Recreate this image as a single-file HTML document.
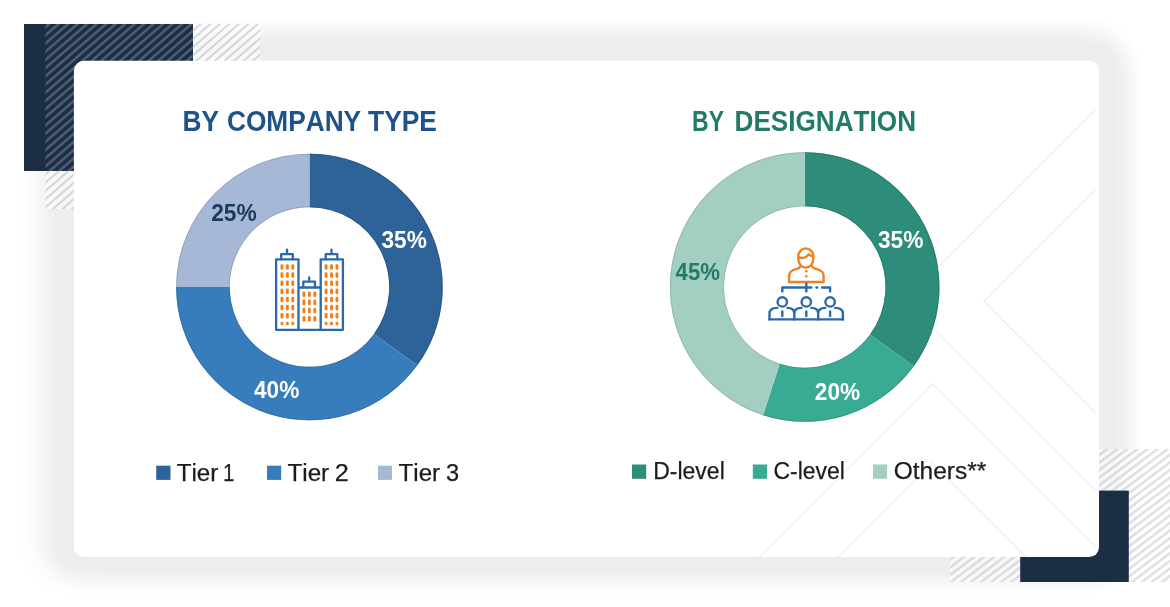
<!DOCTYPE html>
<html lang="en"><head><meta charset="utf-8"><title>Breakdown of primaries</title>
<style>
html,body{margin:0;padding:0;background:#fff;}
body{width:1170px;height:607px;position:relative;overflow:hidden;font-family:"Liberation Sans",sans-serif;}
.shadow{position:absolute;left:48px;top:30px;width:1082px;height:552px;border-radius:44px;background:rgba(0,0,0,.037);filter:blur(8px);}
.shadow.b{left:32px;width:1098px;filter:blur(9px);}
svg{position:absolute;left:0;top:0;}
text{font-kerning:none;white-space:pre;}
.t{font-weight:700;font-size:29.9px;}
.p{font-weight:700;font-size:24.6px;}
.l{font-size:24.8px;fill:#1c1c1c;stroke:#1c1c1c;stroke-width:.25px;}
</style></head><body>
<div class="shadow"></div><div class="shadow b"></div>
<svg width="1170" height="607" viewBox="0 0 1170 607">
<defs>
<pattern id="h" width="20" height="6.2" patternUnits="userSpaceOnUse" patternTransform="translate(0,-.8) rotate(-40.8)"><rect x="0" y="0" width="20" height="2.4" fill="#96a0b1" fill-opacity=".43"/></pattern>
<pattern id="h3" width="20" height="6.2" patternUnits="userSpaceOnUse" patternTransform="translate(0,-.8) rotate(-40.8)"><rect x="0" y=".4" width="20" height="1.6" fill="#9a9eab" fill-opacity=".5"/></pattern>
<pattern id="h2" width="20" height="6.05" patternUnits="userSpaceOnUse" patternTransform="translate(2,0) rotate(-37)"><rect x="0" y="0" width="20" height="2.6" fill="#a3a7b3" fill-opacity=".34"/></pattern>
<clipPath id="cc"><rect x="74" y="61" width="1021.5" height="496" rx="8"/></clipPath>
</defs>
<rect x="45" y="24" width="215" height="185" fill="#fff" fill-opacity=".6"/>
<rect x="950" y="449" width="220" height="133" fill="#fff" fill-opacity=".6"/>
<rect x="24" y="24" width="169" height="147" fill="#1c2e44"/>
<rect x="45.5" y="24" width="147.5" height="147" fill="url(#h)"/><path d="M193 24H260.2V209H45.5V171H193z" fill="url(#h3)"/>
<rect x="950.4" y="449" width="220" height="133" fill="url(#h2)"/>
<rect x="1020.2" y="490.6" width="108.6" height="91.4" fill="#1c2e44"/>
<rect x="73.9" y="60.7" width="1025.1" height="496.4" rx="10" fill="#fff"/>
<path d="M309.45 153.7A133.3 133.3 0 0 1 417.29 365.35L374.01 333.91A79.8 79.8 0 0 0 309.45 207.2Z" fill="#2e6399"/>
<path d="M417.29 365.35A133.3 133.3 0 0 1 176.15 287L229.65 287A79.8 79.8 0 0 0 374.01 333.91Z" fill="#377cbb"/>
<path d="M176.15 287A133.3 133.3 0 0 1 309.45 153.7L309.45 207.2A79.8 79.8 0 0 0 229.65 287Z" fill="#a6b8d6"/>
<path d="M309.45 154.15A132.85000000000002 132.85000000000002 0 0 1 416.93 365.09M309.45 206.75A80.25 80.25 0 0 1 374.37 334.17" fill="none" stroke="#234d77" stroke-opacity=".6" stroke-width=".9"/>
<path d="M416.93 365.09A132.85000000000002 132.85000000000002 0 0 1 176.6 287M374.37 334.17A80.25 80.25 0 0 1 229.2 287" fill="none" stroke="#2a6091" stroke-opacity=".6" stroke-width=".9"/>
<path d="M176.6 287A132.85000000000002 132.85000000000002 0 0 1 309.45 154.15M229.2 287A80.25 80.25 0 0 1 309.45 206.75" fill="none" stroke="#818fa6" stroke-opacity=".6" stroke-width=".9"/>
<path d="M804.7 152.2A134.8 134.8 0 0 1 913.76 366.23L870.07 334.49A80.8 80.8 0 0 0 804.7 206.2Z" fill="#2e8c7a"/>
<path d="M913.76 366.23A134.8 134.8 0 0 1 763.04 415.2L779.73 363.85A80.8 80.8 0 0 0 870.07 334.49Z" fill="#39ab94"/>
<path d="M763.04 415.2A134.8 134.8 0 0 1 804.7 152.2L804.7 206.2A80.8 80.8 0 0 0 779.73 363.85Z" fill="#a3cfc3"/>
<path d="M804.7 152.65A134.35000000000002 134.35000000000002 0 0 1 913.39 365.97M804.7 205.75A81.25 81.25 0 0 1 870.43 334.76" fill="none" stroke="#236d5f" stroke-opacity=".6" stroke-width=".9"/>
<path d="M913.39 365.97A134.35000000000002 134.35000000000002 0 0 1 763.18 414.77M870.43 334.76A81.25 81.25 0 0 1 779.59 364.27" fill="none" stroke="#2c8573" stroke-opacity=".6" stroke-width=".9"/>
<path d="M763.18 414.77A134.35000000000002 134.35000000000002 0 0 1 804.7 152.65M779.59 364.27A81.25 81.25 0 0 1 804.7 205.75" fill="none" stroke="#7fa198" stroke-opacity=".6" stroke-width=".9"/>
<g fill="none" stroke="#8f8f8f" stroke-opacity=".14" stroke-width="1.4" clip-path="url(#cc)">
<path d="M1105 100.4L905 300.4L1105 500.4"/>
<path d="M1104 181.5L984 301.5L1104 421.5"/>
<path d="M752.5 564L932.5 384L1112.5 564"/>
<path d="M832.5 563.3L932.5 463.3L1032.5 563.3"/>
</g>
<g fill="none" stroke="#2b69ab" stroke-width="2.3" stroke-linejoin="round" stroke-linecap="round">
<path d="M276.1 329.8V259.3H298.5V329.8M320.7 329.8V259.3H342.9V329.8M276.1 329.8H342.9M298.5 287.5H320.7"/>
<path d="M281.2 259.3V254.2H292.8V259.3M287.05 254.2V249.6M325.7 259.3V254.2H337.3V259.3M331.45 254.2V249.6M303.3 287.5V281.7H315V287.5M309.15 281.7V277.5"/>
</g>
<g fill="#f0801c"><rect x="280.5" y="264.2" width="2.9" height="5.6" rx="1.3"/><rect x="280.5" y="272.3" width="2.9" height="5.6" rx="1.3"/><rect x="280.5" y="280.5" width="2.9" height="5.6" rx="1.3"/><rect x="280.5" y="288.6" width="2.9" height="5.6" rx="1.3"/><rect x="280.5" y="296.7" width="2.9" height="5.6" rx="1.3"/><rect x="280.5" y="304.8" width="2.9" height="5.6" rx="1.3"/><rect x="280.5" y="313" width="2.9" height="5.6" rx="1.3"/><rect x="280.5" y="321.7" width="2.9" height="3.6" rx="1.3"/><rect x="285.95" y="264.2" width="2.9" height="5.6" rx="1.3"/><rect x="285.95" y="272.3" width="2.9" height="5.6" rx="1.3"/><rect x="285.95" y="280.5" width="2.9" height="5.6" rx="1.3"/><rect x="285.95" y="288.6" width="2.9" height="5.6" rx="1.3"/><rect x="285.95" y="296.7" width="2.9" height="5.6" rx="1.3"/><rect x="285.95" y="304.8" width="2.9" height="5.6" rx="1.3"/><rect x="285.95" y="313" width="2.9" height="5.6" rx="1.3"/><rect x="285.95" y="321.7" width="2.9" height="3.6" rx="1.3"/><rect x="291.35" y="264.2" width="2.9" height="5.6" rx="1.3"/><rect x="291.35" y="272.3" width="2.9" height="5.6" rx="1.3"/><rect x="291.35" y="280.5" width="2.9" height="5.6" rx="1.3"/><rect x="291.35" y="288.6" width="2.9" height="5.6" rx="1.3"/><rect x="291.35" y="296.7" width="2.9" height="5.6" rx="1.3"/><rect x="291.35" y="304.8" width="2.9" height="5.6" rx="1.3"/><rect x="291.35" y="313" width="2.9" height="5.6" rx="1.3"/><rect x="291.35" y="321.7" width="2.9" height="3.6" rx="1.3"/><rect x="324.65" y="264.2" width="2.9" height="5.6" rx="1.3"/><rect x="324.65" y="272.3" width="2.9" height="5.6" rx="1.3"/><rect x="324.65" y="280.5" width="2.9" height="5.6" rx="1.3"/><rect x="324.65" y="288.6" width="2.9" height="5.6" rx="1.3"/><rect x="324.65" y="296.7" width="2.9" height="5.6" rx="1.3"/><rect x="324.65" y="304.8" width="2.9" height="5.6" rx="1.3"/><rect x="324.65" y="313" width="2.9" height="5.6" rx="1.3"/><rect x="324.65" y="321.7" width="2.9" height="3.6" rx="1.3"/><rect x="330.05" y="264.2" width="2.9" height="5.6" rx="1.3"/><rect x="330.05" y="272.3" width="2.9" height="5.6" rx="1.3"/><rect x="330.05" y="280.5" width="2.9" height="5.6" rx="1.3"/><rect x="330.05" y="288.6" width="2.9" height="5.6" rx="1.3"/><rect x="330.05" y="296.7" width="2.9" height="5.6" rx="1.3"/><rect x="330.05" y="304.8" width="2.9" height="5.6" rx="1.3"/><rect x="330.05" y="313" width="2.9" height="5.6" rx="1.3"/><rect x="330.05" y="321.7" width="2.9" height="3.6" rx="1.3"/><rect x="335.55" y="264.2" width="2.9" height="5.6" rx="1.3"/><rect x="335.55" y="272.3" width="2.9" height="5.6" rx="1.3"/><rect x="335.55" y="280.5" width="2.9" height="5.6" rx="1.3"/><rect x="335.55" y="288.6" width="2.9" height="5.6" rx="1.3"/><rect x="335.55" y="296.7" width="2.9" height="5.6" rx="1.3"/><rect x="335.55" y="304.8" width="2.9" height="5.6" rx="1.3"/><rect x="335.55" y="313" width="2.9" height="5.6" rx="1.3"/><rect x="335.55" y="321.7" width="2.9" height="3.6" rx="1.3"/><rect x="302.5" y="291.4" width="2.9" height="5.6" rx="1.3"/><rect x="302.5" y="299.6" width="2.9" height="5.6" rx="1.3"/><rect x="302.5" y="307.7" width="2.9" height="5.6" rx="1.3"/><rect x="302.5" y="316" width="2.9" height="5.6" rx="1.3"/><rect x="307.95" y="291.4" width="2.9" height="5.6" rx="1.3"/><rect x="307.95" y="299.6" width="2.9" height="5.6" rx="1.3"/><rect x="307.95" y="307.7" width="2.9" height="5.6" rx="1.3"/><rect x="307.95" y="316" width="2.9" height="5.6" rx="1.3"/><rect x="313.35" y="291.4" width="2.9" height="5.6" rx="1.3"/><rect x="313.35" y="299.6" width="2.9" height="5.6" rx="1.3"/><rect x="313.35" y="307.7" width="2.9" height="5.6" rx="1.3"/><rect x="313.35" y="316" width="2.9" height="5.6" rx="1.3"/></g>
<g fill="none" stroke="#f0801c" stroke-width="2.4" stroke-linecap="round" stroke-linejoin="round">
<path d="M798.4 259.5v-3.7a7.4 7.4 0 0 1 14.8 0v3.7c0 4.5-3.3 8.1-7.4 8.1s-7.4-3.6-7.4-8.1z"/>
<path d="M798.8 257.1c2 1 4.2 1.1 6 .4c1.8-.7 2.9-2 3.9-3.3c1.3 1.5 2.9 2.1 4.6 1.8"/>
<path d="M800.7 266.2c-.8 1.6-2.3 2.3-4.6 2.9c-5.3 1.3-7 3-7 6.7v6.2h34.5v-6.2c0-3.7-1.7-5.4-7-6.7c-2.3-.6-3.8-1.3-4.6-2.9"/>
</g>
<g fill="#f0801c"><circle cx="806.3" cy="271.3" r="1.3"/><circle cx="806.3" cy="276.3" r="1.3"/></g>
<g fill="none" stroke="#2b69ab" stroke-width="2.4" stroke-linecap="round" stroke-linejoin="round">
<path d="M806.3 283.4V291.4M782.3 291.4V287.5H811.3M816.4 287.5h.8M822.1 287.5H830.1V291.4"/>
<circle cx="782.3" cy="301.9" r="4.7"/><circle cx="806.3" cy="301.9" r="4.7"/><circle cx="830.1" cy="301.9" r="4.7"/>
<path d="M769.5 319.4H842.9"/>
<path d="M769.5 319.4V313.4c0-3.6 3-5.4 7.7-5.5M787.4 307.9c4.3 .1 6.9 1.9 6.9 5.5V319.4M794.3 313.4c0-3.6 2.7-5.4 7-5.5M811.3 307.9c4.3 .1 6.9 1.9 6.9 5.5V319.4M818.2 313.4c0-3.6 2.7-5.4 7-5.5M835.1 307.9c4.4 .1 7.8 1.9 7.8 5.5V319.4"/>
<path d="M782.3 311.4V316M806.3 311.4V316M830.1 311.4V316"/>
</g>
<text class="t" y="130.6" fill="#1f5288"><tspan x="182.44" textLength="36.48" lengthAdjust="spacingAndGlyphs">BY</tspan> <tspan x="227.02" textLength="134.1" lengthAdjust="spacingAndGlyphs">COMPANY</tspan> <tspan x="368.1" textLength="68.83" lengthAdjust="spacingAndGlyphs">TYPE</tspan></text>
<text class="t" y="130.7" fill="#237a68"><tspan x="692.06" textLength="31.91" lengthAdjust="spacingAndGlyphs">BY</tspan> <tspan x="734.55" textLength="181.51" lengthAdjust="spacingAndGlyphs">DESIGNATION</tspan></text>
<text class="p" y="221" fill="#1b3a5c"><tspan x="211.21" textLength="45.59" lengthAdjust="spacingAndGlyphs">25%</tspan></text>
<text class="p" y="248.3" fill="#fff"><tspan x="381.48" textLength="45.32" lengthAdjust="spacingAndGlyphs">35%</tspan></text>
<text class="p" y="398.3" fill="#fff"><tspan x="253.96" textLength="45.34" lengthAdjust="spacingAndGlyphs">40%</tspan></text>
<text class="p" y="248" fill="#fff"><tspan x="877.88" textLength="45.52" lengthAdjust="spacingAndGlyphs">35%</tspan></text>
<text class="p" y="399.7" fill="#fff"><tspan x="814.82" textLength="45.28" lengthAdjust="spacingAndGlyphs">20%</tspan></text>
<text class="p" y="279.6" fill="#237a68"><tspan x="675.56" textLength="44.42" lengthAdjust="spacingAndGlyphs">45%</tspan></text>
<rect x="156.2" y="465.7" width="14.3" height="14.2" fill="#2e6399"/>
<rect x="267" y="465.7" width="14.2" height="14.2" fill="#377cbb"/>
<rect x="377.9" y="465.7" width="14.1" height="14.2" fill="#a6b8d6"/>
<text class="l" y="480.5"><tspan x="176.66" textLength="41.64" lengthAdjust="spacingAndGlyphs">Tier</tspan> <tspan x="223.05" textLength="11.35" lengthAdjust="spacingAndGlyphs">1</tspan></text>
<text class="l" y="480.5"><tspan x="287.46" textLength="41.75" lengthAdjust="spacingAndGlyphs">Tier</tspan> <tspan x="334.83" textLength="14.04" lengthAdjust="spacingAndGlyphs">2</tspan></text>
<text class="l" y="480.5"><tspan x="398.56" textLength="41.54" lengthAdjust="spacingAndGlyphs">Tier</tspan> <tspan x="445.9" textLength="13.14" lengthAdjust="spacingAndGlyphs">3</tspan></text>
<rect x="632" y="464.5" width="14.2" height="14.3" fill="#2e8c7a"/>
<rect x="752.8" y="464.5" width="14.3" height="14.3" fill="#39ab94"/>
<rect x="873" y="464.5" width="14.1" height="14.3" fill="#a3cfc3"/>
<text class="l" y="479.2"><tspan x="653.21" textLength="71.58" lengthAdjust="spacingAndGlyphs">D-level</tspan></text>
<text class="l" y="479.2"><tspan x="773.44" textLength="71.35" lengthAdjust="spacingAndGlyphs">C-level</tspan></text>
<text class="l" y="479.2"><tspan x="893.64" textLength="92.64" lengthAdjust="spacingAndGlyphs">Others**</tspan></text>
</svg>
</body></html>
